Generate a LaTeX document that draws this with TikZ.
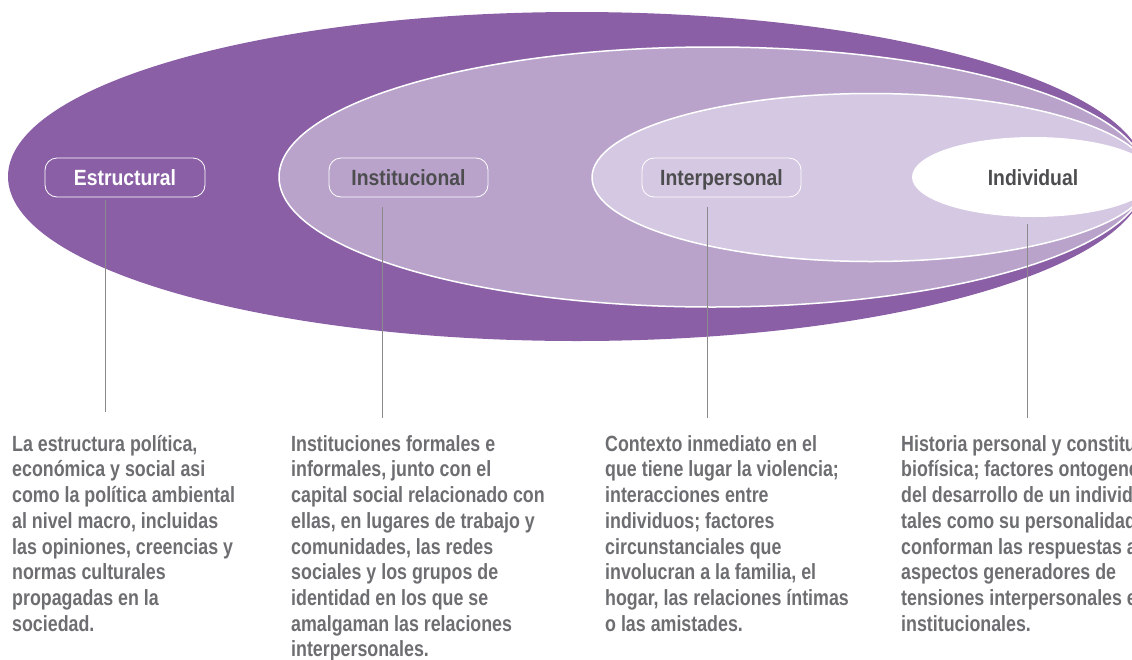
\documentclass[tikz,border=0pt]{standalone}
\usepackage{fontspec}
\newfontfamily\cf{Liberation Sans}[FakeStretch=0.88]
\newfontfamily\cb{Liberation Sans}[FakeStretch=0.81]
\definecolor{darkp}{HTML}{8B5FA6}
\definecolor{medp}{HTML}{B9A3CB}
\definecolor{lightp}{HTML}{D5C8E2}
\definecolor{labelgray}{HTML}{4D4D4F}
\definecolor{bodygray}{HTML}{6D6E71}
\definecolor{linegray}{HTML}{8A8A8C}
\tikzset{
  lbl/.style={draw=white, line width=0.8pt, rounded corners=12pt, minimum width=160pt, minimum height=39pt, inner sep=0pt, text height=15.8pt, text depth=0pt, font=\cf\bfseries\fontsize{22}{24}\selectfont},
  body/.style={anchor=north west, align=left, inner sep=0pt, text=bodygray, font=\cb\bfseries\fontsize{22}{25.7}\selectfont},
  lead/.style={draw=linegray, line width=1pt},
  ring/.style={draw=white, line width=1.5pt}
}
\begin{document}
\begin{tikzpicture}[x=1pt,y=-1pt]
\useasboundingbox (0,0) rectangle (1132,659);
\begin{scope}
\clip (0,0) rectangle (1132,659);
\fill[darkp] (577,176.5) ellipse [x radius=569pt, y radius=164.5pt];
\filldraw[fill=medp, ring] (712.5,177) ellipse [x radius=433.5pt, y radius=130pt];
\filldraw[fill=lightp, ring] (871,177.5) ellipse [x radius=279pt, y radius=84pt];
\fill[white] (1033.5,177) ellipse [x radius=121.5pt, y radius=40pt];
\end{scope}

\node[lbl, text=white] (estr) at (125,177.5) {Estructural};
\node[lbl, text=labelgray, minimum width=159pt] (inst) at (408.5,177.5) {Institucional};
\node[lbl, text=labelgray, minimum width=159pt] (inter) at (721.5,177.5) {Interpersonal};
\node[inner sep=0pt, text=labelgray, text height=15.8pt, text depth=0pt, font=\cf\bfseries\fontsize{22}{24}\selectfont] (indiv) at (1033,178) {Individual};

\node[body] (testr) at (12,431) {\rule{0pt}{20pt}La estructura política,\\económica y social asi\\como la política ambiental\\al nivel macro, incluidas\\las opiniones, creencias y\\normas culturales\\propagadas en la\\sociedad.};
\node[body] (tinst) at (291,431) {\rule{0pt}{20pt}Instituciones formales e\\informales, junto con el\\capital social relacionado con\\ellas, en lugares de trabajo y\\comunidades, las redes\\sociales y los grupos de\\identidad en los que se\\amalgaman las relaciones\\interpersonales.};
\node[body] (tinter) at (605,431) {\rule{0pt}{20pt}Contexto inmediato en el\\que tiene lugar la violencia;\\interacciones entre\\individuos; factores\\circunstanciales que\\involucran a la familia, el\\hogar, las relaciones íntimas\\o las amistades.};
\node[body] (tindiv) at (901,431) {\rule{0pt}{20pt}Historia personal y constitución\\biofísica; factores ontogenéticos\\del desarrollo de un individuo,\\tales como su personalidad, que\\conforman las respuestas a\\aspectos generadores de\\tensiones interpersonales e\\institucionales.};

\coordinate (ce) at (105,412);
\coordinate (ci) at (382,418);
\coordinate (cp) at (707,418);
\coordinate (cv) at (1027,418);
\draw[lead] (estr.south -| ce) ++(0,3) -- (ce);
\draw[lead] (inst.south -| ci) ++(0,10) -- (ci);
\draw[lead] (inter.south -| cp) ++(0,10) -- (cp);
\draw[lead] (indiv.south -| cv) ++(0,38) -- (cv);
\end{tikzpicture}
\end{document}
